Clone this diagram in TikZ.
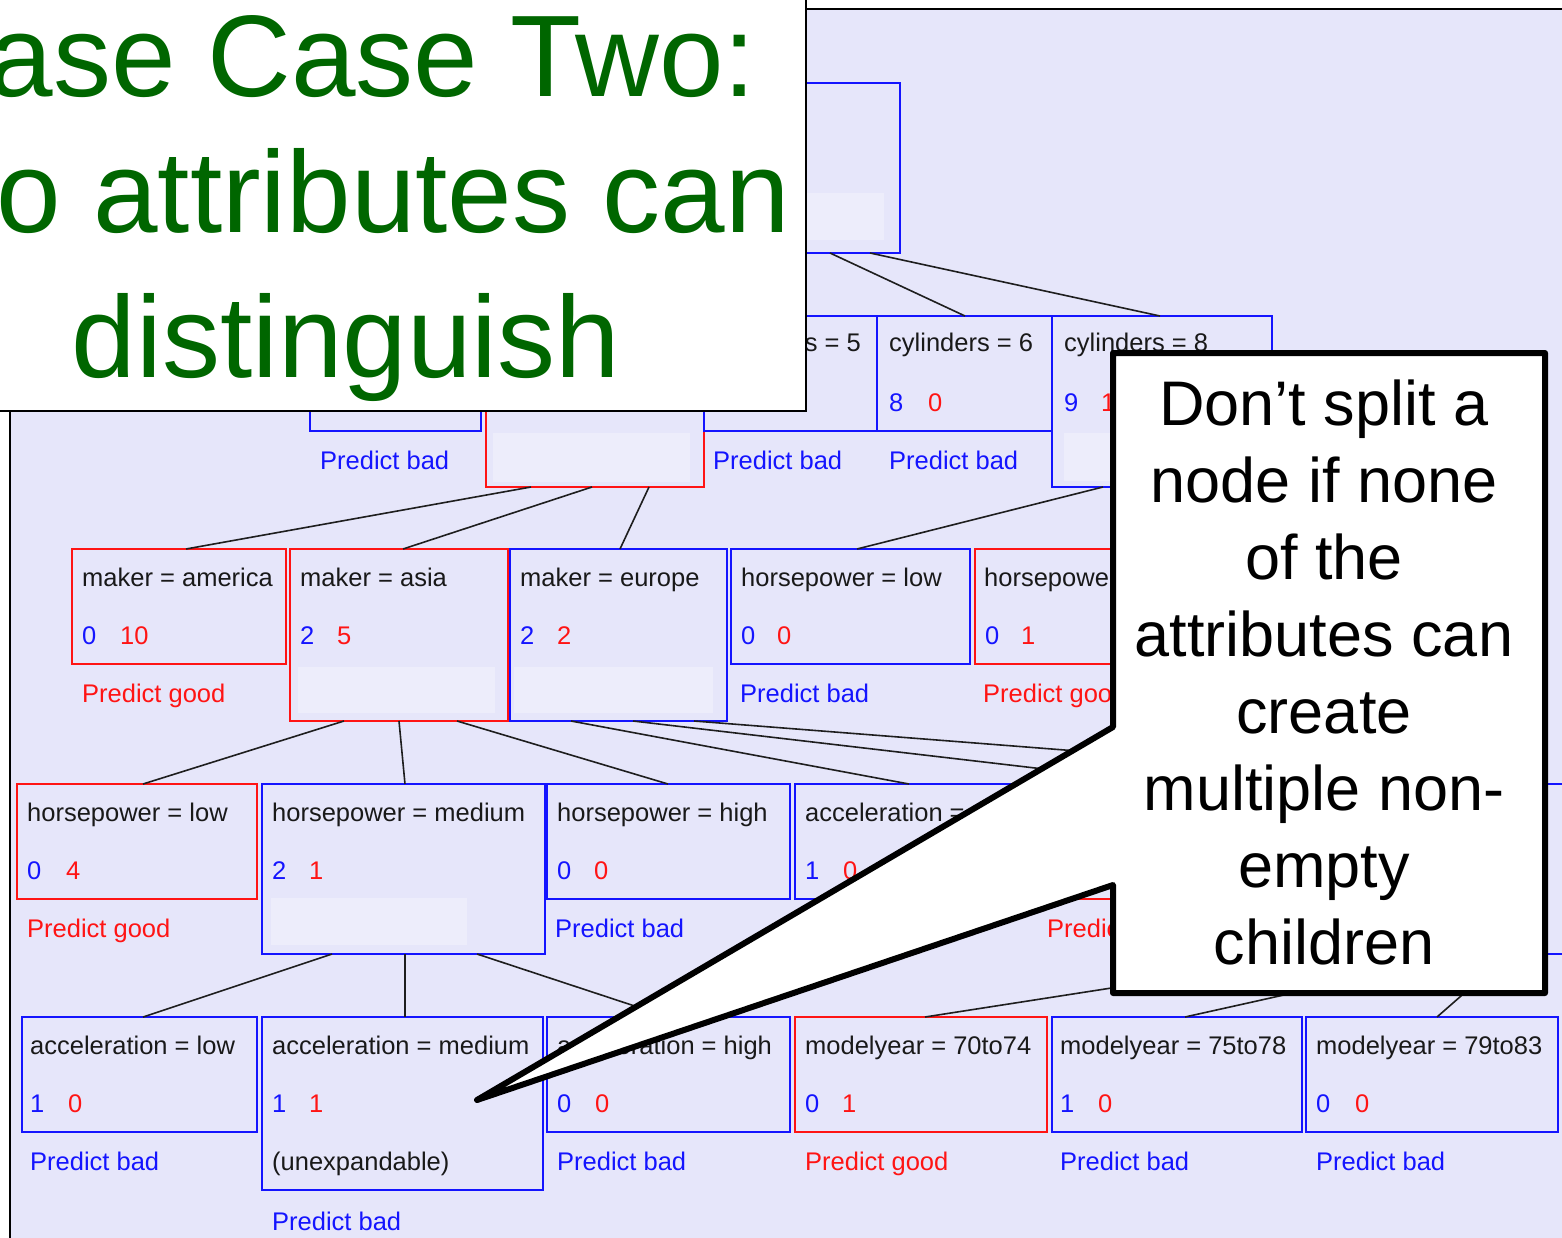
\documentclass[tikz,border=0pt]{standalone}
\usepackage{fontspec}
\setmainfont{Liberation Sans}
\definecolor{panelbg}{RGB}{230,230,250}
\definecolor{innerbg}{RGB}{237,237,251}
\definecolor{tblue}{RGB}{20,20,255}
\definecolor{tred}{RGB}{255,20,20}
\definecolor{ttext}{RGB}{25,25,25}
\definecolor{tgreen}{RGB}{0,102,0}
\definecolor{tedge}{RGB}{30,30,30}
\newcommand\treefnt{\fontsize{25.5}{30}\selectfont}
\newcommand\titlefnt{\fontsize{116}{140}\selectfont}
\newcommand\callfnt{\fontsize{63}{77}\selectfont}
\begin{document}
\begin{tikzpicture}[x=1pt,y=-1pt,
  tbox/.style={draw, line width=2pt, inner sep=0pt, outer sep=0pt, anchor=north west},
  bbox/.style={tbox, draw=tblue},
  rbox/.style={tbox, draw=tred},
  inbox/.style={fill=innerbg, draw=none, inner sep=0pt, outer sep=0pt, anchor=north west},
  lbl/.style={anchor=base west, inner sep=0pt, font=\treefnt, text=ttext},
  lb/.style={lbl, text=tblue},
  lr/.style={lbl, text=tred},
  link/.style={draw=tedge, line width=1.6pt},
  ttl/.style={inner sep=0pt, font=\titlefnt, text=tgreen},
  call/.style={anchor=base, inner sep=0pt, font=\callfnt, text=black}]
\useasboundingbox (0,0) rectangle (1562,1238);
% panel
\node[fill=white, inner sep=0pt, anchor=north west, minimum width=1562pt, minimum height=1238pt] (page) at (0,0) {};
\node[fill=panelbg, inner sep=0pt, outer sep=0pt, anchor=north west, minimum width=1600pt, minimum height=1260pt] (panel) at (10,9) {};
\draw[line width=2.5pt, black] (panel.south west) -- (panel.north west) -- (panel.north east);
% inner light areas
\node[inbox, minimum width=172pt, minimum height=47pt] (rootin) at (712,193) {};
\node[inbox, minimum width=197pt, minimum height=49pt] (Bin) at (493,433) {};
\node[inbox, minimum width=196pt, minimum height=48pt] (Ein) at (1064,433) {};
\node[inbox, minimum width=197pt, minimum height=46pt] (asiain) at (298,667) {};
\node[inbox, minimum width=199pt, minimum height=46pt] (euroin) at (514,667) {};
\node[inbox, minimum width=196pt, minimum height=47pt] (hmin) at (271,898) {};
% boxes
\node[bbox, minimum width=300pt, minimum height=170pt] (root) at (600,83) {};
\node[bbox, minimum width=171pt, minimum height=115pt] (A) at (310,316) {};
\node[rbox, minimum width=218pt, minimum height=171pt] (B) at (486,316) {};
\node[bbox, minimum width=173pt, minimum height=115pt] (C) at (704,316) {};
\node[bbox, minimum width=175pt, minimum height=115pt] (D) at (877,316) {};
\node[bbox, minimum width=220pt, minimum height=171pt] (E) at (1052,316) {};
\node[rbox, minimum width=214pt, minimum height=115pt] (amer) at (72,549) {};
\node[rbox, minimum width=218pt, minimum height=172pt] (asia) at (290,549) {};
\node[bbox, minimum width=217pt, minimum height=172pt] (euro) at (510,549) {};
\node[bbox, minimum width=239pt, minimum height=115pt] (hpl) at (731,549) {};
\node[rbox, minimum width=240pt, minimum height=115pt] (hpm) at (975,549) {};
\node[rbox, minimum width=240pt, minimum height=115pt] (hl) at (17,784) {};
\node[bbox, minimum width=283pt, minimum height=170pt] (hm) at (262,784) {};
\node[bbox, minimum width=243pt, minimum height=115pt] (hh) at (547,784) {};
\node[bbox, minimum width=245pt, minimum height=115pt] (acc) at (795,784) {};
\node[rbox, minimum width=254pt, minimum height=115pt] (redx) at (1043,784) {};
\node[bbox, minimum width=400pt, minimum height=170pt] (far) at (1300,784) {};
\node[bbox, minimum width=235pt, minimum height=115pt] (al) at (22,1017) {};
\node[bbox, minimum width=281pt, minimum height=173pt] (am) at (262,1017) {};
\node[bbox, minimum width=243pt, minimum height=115pt] (ah) at (547,1017) {};
\node[rbox, minimum width=252pt, minimum height=115pt] (ma) at (795,1017) {};
\node[bbox, minimum width=250pt, minimum height=115pt] (mb) at (1052,1017) {};
\node[bbox, minimum width=252pt, minimum height=115pt] (mc) at (1306,1017) {};
% connectors
\draw[link] ([xshift=230pt]root.south west) -- ([xshift=88pt]D.north west);
\draw[link] ([xshift=270pt]root.south west) -- ([xshift=108pt]E.north west);
\draw[link] ([xshift=45pt]B.south west) -- ([xshift=114pt]amer.north west);
\draw[link] ([xshift=106pt]B.south west) -- ([xshift=113pt]asia.north west);
\draw[link] ([xshift=163pt]B.south west) -- ([xshift=110pt]euro.north west);
\draw[link] ([xshift=51pt]E.south west) -- ([xshift=126pt]hpl.north west);
\draw[link] ([xshift=54pt]asia.south west) -- ([xshift=126pt]hl.north west);
\draw[link] ([xshift=109pt]asia.south west) -- ([xshift=143pt]hm.north west);
\draw[link] ([xshift=167pt]asia.south west) -- ([xshift=121pt]hh.north west);
\draw[link] ([xshift=61pt]euro.south west) -- ([xshift=114pt]acc.north west);
\draw[link] ([xshift=123pt]euro.south west) -- ([xshift=129pt]redx.north west);
\draw[link] ([xshift=184pt]euro.south west) -- ([xshift=199pt]far.north west);
\draw[link] ([xshift=70pt]hm.south west) -- ([xshift=121pt]al.north west);
\draw[link] ([xshift=143pt]hm.south west) -- ([xshift=143pt]am.north west);
\draw[link] ([xshift=215pt]hm.south west) -- ([xshift=121pt]ah.north west);
\draw[link] ([xshift=30pt]far.south west) -- ([xshift=130pt]ma.north west);
\draw[link] ([xshift=168pt]far.south west) -- ([xshift=133pt]mb.north west);
\draw[link] ([xshift=209pt]far.south west) -- ([xshift=131pt]mc.north west);
% level 1 texts
\node[lbl, anchor=base east] (Ct) at (861,351) {s = 5};
\node[lbl] (Dt) at (889,351) {cylinders = 6};
\node[lbl] (Et) at (1064,351) {cylinders = 8};
\node[lb] (Dn1) at (889,411) {8};
\node[lr] (Dn2) at (928,411) {0};
\node[lb] (En1) at (1064,411) {9};
\node[lr] (En2) at (1101,411) {1};
\node[lb] (Ap) at (320,469) {Predict bad};
\node[lb] (Cp) at (713,469) {Predict bad};
\node[lb] (Dp) at (889,469) {Predict bad};
% level 2 texts
\node[lbl] (amert) at (82,586) {maker = america};
\node[lbl] (asiat) at (300,586) {maker = asia};
\node[lbl] (eurot) at (520,586) {maker = europe};
\node[lbl] (hplt) at (741,586) {horsepower = low};
\node[lbl] (hpmt) at (984,586) {horsepowe};
\node[lb] (amern1) at (82,644) {0};
\node[lr] (amern2) at (120,644) {10};
\node[lb] (asian1) at (300,644) {2};
\node[lr] (asian2) at (337,644) {5};
\node[lb] (euron1) at (520,644) {2};
\node[lr] (euron2) at (557,644) {2};
\node[lb] (hpln1) at (741,644) {0};
\node[lr] (hpln2) at (777,644) {0};
\node[lb] (hpmn1) at (985,644) {0};
\node[lr] (hpmn2) at (1021,644) {1};
\node[lr] (amerp) at (82,702) {Predict good};
\node[lb] (hplp) at (740,702) {Predict bad};
\node[lr] (hpmp) at (983,702) {Predict goo};
% level 3 texts
\node[lbl] (hlt) at (27,821) {horsepower = low};
\node[lbl] (hmt) at (272,821) {horsepower = medium};
\node[lbl] (hht) at (557,821) {horsepower = high};
\node[lbl] (acct) at (805,821) {acceleration =};
\node[lb] (hln1) at (27,879) {0};
\node[lr] (hln2) at (66,879) {4};
\node[lb] (hmn1) at (272,879) {2};
\node[lr] (hmn2) at (309,879) {1};
\node[lb] (hhn1) at (557,879) {0};
\node[lr] (hhn2) at (594,879) {0};
\node[lb] (accn1) at (805,879) {1};
\node[lr] (accn2) at (843,879) {0};
\node[lr] (hlp) at (27,937) {Predict good};
\node[lb] (hhp) at (555,937) {Predict bad};
\node[lr] (redxp) at (1047,937) {Predic};
% level 4 texts
\node[lbl] (alt) at (30,1054) {acceleration = low};
\node[lbl] (amt) at (272,1054) {acceleration = medium};
\node[lbl] (aht) at (557,1054) {acceleration = high};
\node[lbl] (mat) at (805,1054) {modelyear = 70to74};
\node[lbl] (mbt) at (1060,1054) {modelyear = 75to78};
\node[lbl] (mct) at (1316,1054) {modelyear = 79to83};
\node[lb] (aln1) at (30,1112) {1};
\node[lr] (aln2) at (68,1112) {0};
\node[lb] (amn1) at (272,1112) {1};
\node[lr] (amn2) at (309,1112) {1};
\node[lb] (ahn1) at (557,1112) {0};
\node[lr] (ahn2) at (595,1112) {0};
\node[lb] (man1) at (805,1112) {0};
\node[lr] (man2) at (842,1112) {1};
\node[lb] (mbn1) at (1060,1112) {1};
\node[lr] (mbn2) at (1098,1112) {0};
\node[lb] (mcn1) at (1316,1112) {0};
\node[lr] (mcn2) at (1355,1112) {0};
\node[lb] (alp) at (30,1170) {Predict bad};
\node[lbl] (amu) at (272,1170) {(unexpandable)};
\node[lb] (amp) at (272,1230) {Predict bad};
\node[lb] (ahp) at (557,1170) {Predict bad};
\node[lr] (map) at (805,1170) {Predict good};
\node[lb] (mbp) at (1060,1170) {Predict bad};
\node[lb] (mcp) at (1316,1170) {Predict bad};
% title box
\node[draw=black, line width=2.5pt, fill=white, inner sep=0pt, outer sep=0pt, anchor=north west, minimum width=826pt, minimum height=431pt] (titlebox) at (-20,-20) {};
\node[ttl, anchor=base east] (t1) at (756,97) {ase Case Two:};
\node[ttl, anchor=base east] (t2) at (790,233) {o attributes can};
\node[ttl, anchor=base] (t3) at (346,377) {distinguish};
% callout
\coordinate (tip) at (477,1100);
\draw[line width=6pt, fill=white, line join=round] (1113,727) -- (1113,353) -- (1545,353) -- (1545,993) -- (1113,993) -- (1113,885) -- (tip) -- cycle;
\node[call] (c1) at (1324,425) {Don’t split a};
\node[call] (c2) at (1324,502) {node if none};
\node[call] (c3) at (1324,579) {of the};
\node[call] (c4) at (1324,656) {attributes can};
\node[call] (c5) at (1324,733) {create};
\node[call] (c6) at (1324,810) {multiple non-};
\node[call] (c7) at (1324,887) {empty};
\node[call] (c8) at (1324,964) {children};
\end{tikzpicture}
\end{document}
